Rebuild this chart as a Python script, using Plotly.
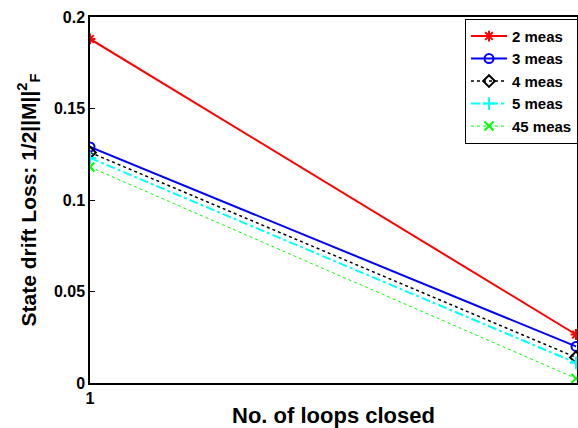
import plotly.graph_objects as go

loops = [1, 2]
x_ticks = [1, 2]
y_ticks = [0, 0.05, 0.1, 0.15, 0.2]
y_tick_labels = ["0", "0.05", "0.1", "0.15", "0.2"]

names = ["2 meas", "3 meas", "4 meas", "5 meas", "45 meas"]
loss_2 = [0.188, 0.0265]
loss_3 = [0.129, 0.020]
loss_4 = [0.126, 0.014]
loss_5 = [0.123, 0.011]
loss_45 = [0.118, 0.0025]

series = [loss_2, loss_3, loss_4, loss_5, loss_45]
colors = ["#ff0000", "#0000ff", "#000000", "#00ffff", "#00ff00"]
dashes = ["solid", "solid", "dot", "dashdot", "dot"]
widths = [2, 2, 1.5, 2, 1]
symbols = ["asterisk-open", "circle-open", "diamond-open", "cross-thin-open", "x-thin-open"]

fig = go.Figure()
for nm, ys, c, d, w, s in zip(names, series, colors, dashes, widths, symbols):
    fig.add_trace(go.Scatter(
        x=loops, y=ys, name=nm, mode="lines+markers",
        line=dict(color=c, dash=d, width=w),
        marker=dict(symbol=s, size=9, color=c, line=dict(color=c, width=2)),
    ))

font_main = "Liberation Sans, Arial, sans-serif"
fig.update_layout(
    width=578, height=428,
    margin=dict(l=90, r=0, t=17, b=45),
    paper_bgcolor="white", plot_bgcolor="white",
    font=dict(family=font_main, size=16, color="black"),
    showlegend=True,
    legend=dict(
        x=0.770, y=0.995, xanchor="left", yanchor="top",
        bgcolor="white", bordercolor="black", borderwidth=1,
        font=dict(family=font_main, size=15, color="black", weight="bold"),
        tracegroupgap=0, itemwidth=36,
    ),
    xaxis=dict(
        range=[1, 2.00205], tickvals=x_ticks, ticktext=[str(v) for v in x_ticks],
        ticks="inside", ticklen=5, tickcolor="black", tickwidth=1,
        showline=True, linecolor="black", linewidth=1.5, mirror=True,
        showgrid=False, zeroline=False,
        tickfont=dict(family=font_main, size=16, color="black", weight="bold"),
        title=dict(text="No. of loops closed", standoff=6,
                   font=dict(family=font_main, size=22, color="black", weight="bold")),
    ),
    yaxis=dict(
        range=[0, 0.2], tickvals=y_ticks, ticktext=y_tick_labels,
        ticks="inside", ticklen=5, tickcolor="black", tickwidth=1,
        showline=True, linecolor="black", linewidth=1.5, mirror=True,
        showgrid=False, zeroline=False,
        tickfont=dict(family=font_main, size=16, color="black", weight="bold"),
        title=dict(text="State drift Loss: 1/2||M||<sup>2</sup><sub>F</sub>", standoff=12,
                   font=dict(family=font_main, size=21, color="black", weight="bold")),
    ),
)

fig.write_html("out.html", config={"displayModeBar": False},
               post_script="document.body.style.margin='0';")
